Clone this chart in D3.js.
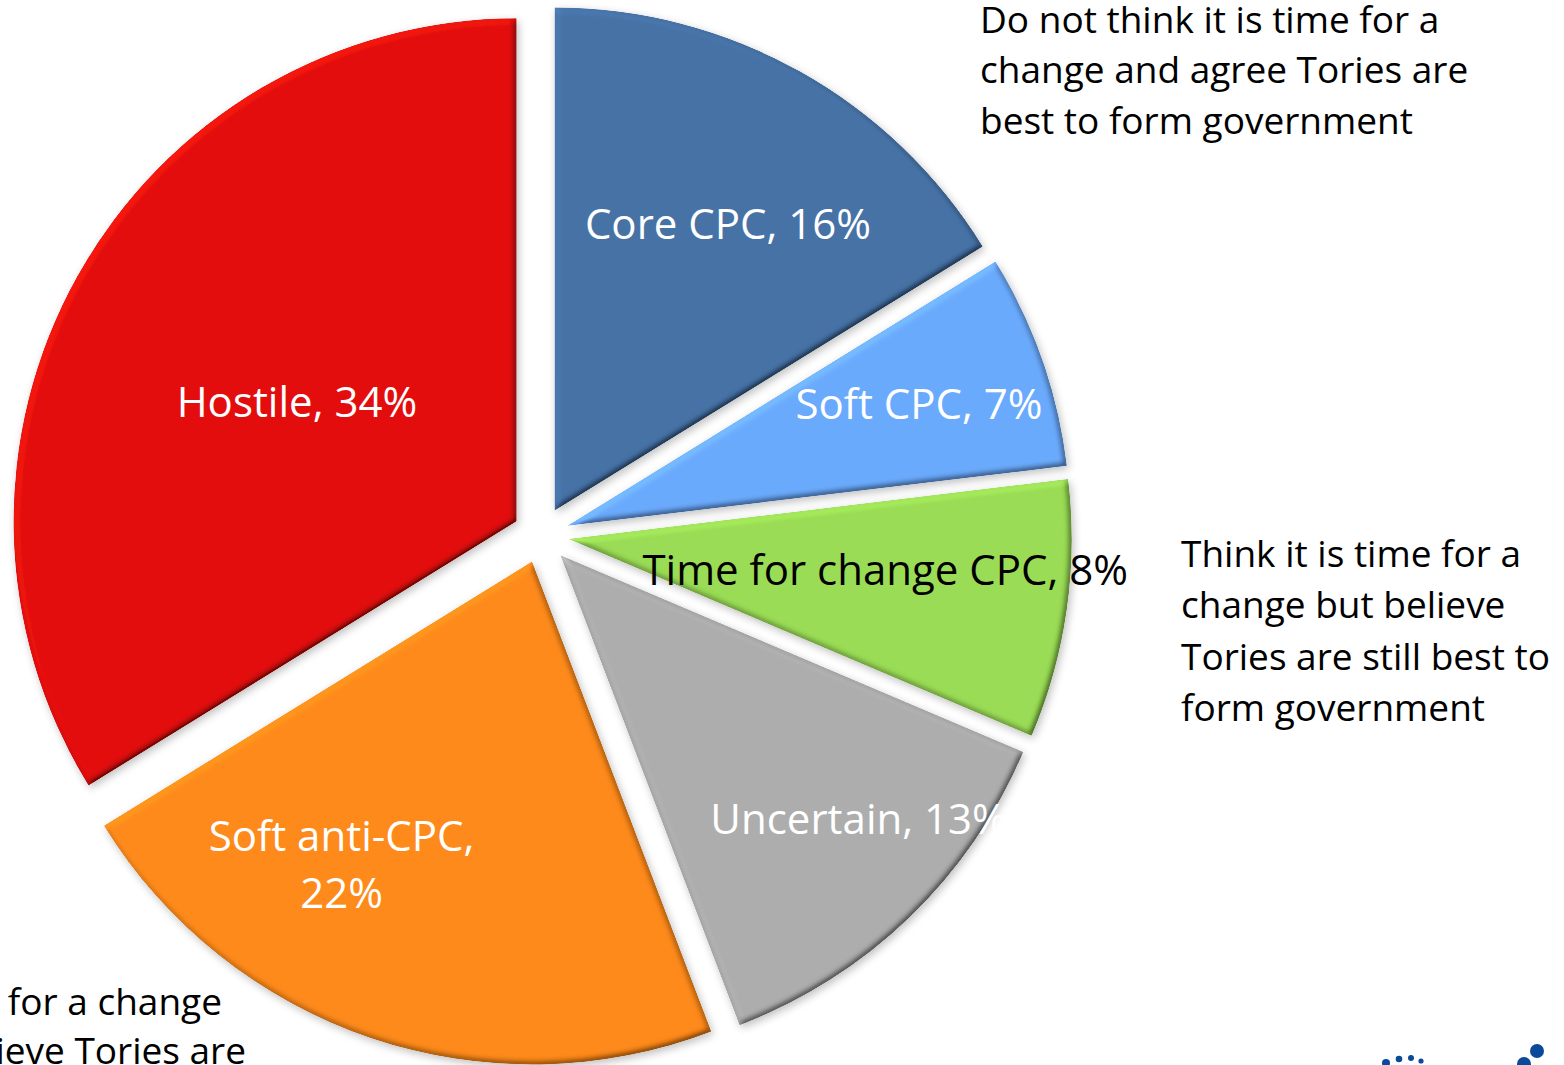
<!DOCTYPE html>
<html>
<head>
<meta charset="utf-8">
<script src="https://cdn.jsdelivr.net/npm/d3@7"></script>
<style>
  html, body { margin: 0; padding: 0; background: #ffffff; }
  svg { display: block; }
  text { font-family: "Open Sans", "Noto Sans", sans-serif; }
</style>
</head>
<body>
<svg id="chart" width="1564" height="1065"></svg>
<script>
// ---- data ----
const categories = ["Core CPC", "Soft CPC", "Time for change CPC", "Uncertain", "Soft anti-CPC", "Hostile"];
const shares = [16.2, 6.9, 8.3, 12.8, 22.0, 33.8];
const labelLines = [["Core CPC, 16%"], ["Soft CPC, 7%"], ["Time for change CPC, 8%"], ["Uncertain, 13%"], ["Soft anti-CPC,", "22%"], ["Hostile, 34%"]];
const annotationTopRight = ["Do not think it is time for a", "change and agree Tories are", "best to form government"];
const annotationRight = ["Think it is time for a", "change but believe", "Tories are still best to", "form government"];
const annotationBottomLeft = ["Think it is time for a change", "but believe Tories are"];

// ---- styling / layout ----
const colors = ["#4672A6", "#6BAAFC", "#9ADC55", "#ADADAD", "#FE8A1A", "#E3110F"];
const labelColors = ["#ffffff", "#ffffff", "#000000", "#ffffff", "#ffffff", "#ffffff"];
const labelAngle = [31, 70.9, 95.8, 131.8, 211.2, 298.6];   // degrees, clockwise from top
const labelRadius = [363, 400, 346, 426, 385, 278];          // px from pie centre

const W = 1564, H = 1065;
const cx = 541, cy = 535, R = 503, explode = 28;

const svg = d3.select("#chart");
const defs = svg.append("defs");

// bevel-like lighting filter
const f = defs.append("filter").attr("id", "bevel")
  .attr("x", "-5%").attr("y", "-5%").attr("width", "110%").attr("height", "110%");
f.append("feGaussianBlur").attr("in", "SourceAlpha").attr("stdDeviation", 3).attr("result", "blur");
const dl = f.append("feDiffuseLighting").attr("in", "blur").attr("surfaceScale", 4)
  .attr("diffuseConstant", 1).attr("lighting-color", "#ffffff").attr("result", "light");
dl.append("feDistantLight").attr("azimuth", 225).attr("elevation", 55);
f.append("feComposite").attr("in", "SourceGraphic").attr("in2", "light")
  .attr("operator", "arithmetic").attr("k1", 1.22).attr("k2", 0).attr("k3", 0).attr("k4", 0).attr("result", "lit");
f.append("feComposite").attr("in", "lit").attr("in2", "SourceAlpha").attr("operator", "in").attr("result", "shaded");
f.append("feGaussianBlur").attr("in", "SourceAlpha").attr("stdDeviation", 4).attr("result", "sblur");
f.append("feOffset").attr("in", "sblur").attr("dx", 2).attr("dy", 3).attr("result", "soff");
f.append("feComponentTransfer").attr("in", "soff").attr("result", "shadow")
  .append("feFuncA").attr("type", "linear").attr("slope", 0.25);
const fm = f.append("feMerge");
fm.append("feMergeNode").attr("in", "shadow");
fm.append("feMergeNode").attr("in", "shaded");

const pie = d3.pie().sort(null).value(d => d).startAngle(0).endAngle(2 * Math.PI);
const arcs = pie(shares);
const arc = d3.arc().innerRadius(0).outerRadius(R);

const g = svg.append("g").attr("transform", `translate(${cx},${cy})`);

g.selectAll("path.slice")
  .data(arcs)
  .join("path")
  .attr("class", "slice")
  .attr("d", arc)
  .attr("fill", (d, i) => colors[i])
  .attr("filter", "url(#bevel)")
  .attr("transform", d => {
    const m = (d.startAngle + d.endAngle) / 2;
    return `translate(${explode * Math.sin(m)},${-explode * Math.cos(m)})`;
  });

// labels
const lab = g.selectAll("text.lbl")
  .data(arcs)
  .join("text")
  .attr("class", "lbl")
  .attr("text-anchor", "middle")
  .attr("font-size", 42)
  .attr("fill", (d, i) => labelColors[i])
  .attr("transform", (d, i) => {
    const a = labelAngle[i] * Math.PI / 180;
    return `translate(${labelRadius[i] * Math.sin(a)},${-labelRadius[i] * Math.cos(a)})`;
  });
lab.each(function (d, i) {
  const lines = labelLines[i];
  const t = d3.select(this);
  const lh = 57;
  lines.forEach((l, k) => {
    t.append("tspan").attr("x", 0)
      .attr("y", (k - (lines.length - 1) / 2) * lh)
      .attr("dy", "0.36em")
      .text(l);
  });
});

// annotations
function annot(lines, x, y0, lh, anchor, ends) {
  const t = svg.append("text").attr("font-size", 37).attr("fill", "#000").attr("text-anchor", anchor || "start");
  lines.forEach((l, k) => t.append("tspan").attr("x", ends ? ends[k] : x).attr("y", y0 + k * lh).text(l));
}
annot(annotationTopRight, 980, 32.5, 50.8);
annot(annotationRight, 1181, 567, 51.3);
annot(annotationBottomLeft, 0, 1015, 49, "end", [222, 246]);

// logo dots (decorative, bottom right)
const logoDots = [[1386, 1063, 4], [1399, 1059, 3.3], [1411, 1058, 3], [1421, 1061, 2.6], [1537, 1051, 7], [1524, 1064, 7]];
svg.selectAll("circle.logo").data(logoDots).join("circle")
  .attr("class", "logo").attr("cx", d => d[0]).attr("cy", d => d[1]).attr("r", d => d[2])
  .attr("fill", "#0B4A9B");
</script>
</body>
</html>
